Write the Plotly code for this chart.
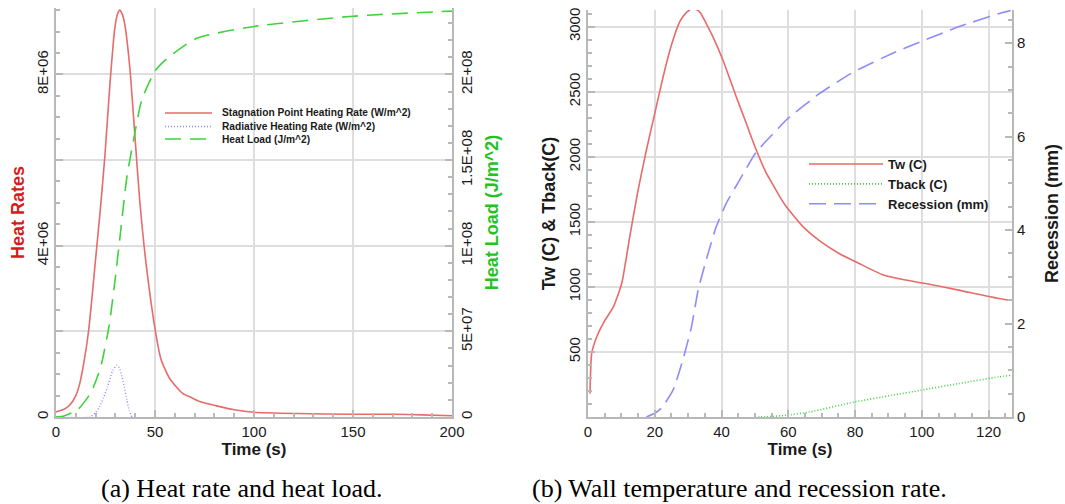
import plotly.graph_objects as go

W, H = 1065, 504

# ---------------- data: (a) heat rate / heat load ----------------
t_stag = [0, 4, 7, 10, 12, 14, 16.3, 18, 19.6, 22.2, 24.7, 27.2, 29.7, 31, 32.2, 33.5, 34.8,
          37.3, 39.8, 42.3, 45.7, 50.4, 53, 57.4, 64, 69, 72.5, 81, 90, 100, 122, 150, 171, 185, 200]
q_stag = [0.12e6, 0.18e6, 0.28e6, 0.5e6, 0.78e6, 1.25e6, 1.95e6, 2.7e6, 3.5e6, 4.75e6, 6.1e6,
          7.75e6, 9.08e6, 9.4e6, 9.5e6, 9.4e6, 9.15e6, 8.15e6, 6.6e6, 5.05e6, 3.5e6, 1.95e6,
          1.35e6, 0.9e6, 0.55e6, 0.44e6, 0.36e6, 0.26e6, 0.17e6, 0.11e6, 0.08e6, 0.065e6,
          0.065e6, 0.05e6, 0.03e6]

t_rad = [0, 17, 20, 22, 24, 26, 28.7, 30.8, 32, 33.3, 34.5, 35.8, 37, 38.3]
q_rad = [0, 0, 0.1e6, 0.24e6, 0.45e6, 0.7e6, 1.09e6, 1.21e6, 1.15e6, 0.94e6, 0.7e6, 0.4e6,
         0.15e6, 0]

t_load = [0, 4, 10.8, 17.5, 22.5, 26.7, 30, 32.5, 35.8, 39.2, 43.3, 50, 55.8, 70.8, 100, 150, 200]
q_load = [0, 0.6e6, 4.1e6, 1.4e7, 2.9e7, 5.25e7, 8.16e7, 1.07e8, 1.40e8, 1.62e8, 1.85e8,
          2.02e8, 2.09e8, 2.21e8, 2.28e8, 2.34e8, 2.37e8]

# ---------------- data: (b) wall temperature / recession ----------------
t_tw = [0.6, 1.1, 2.6, 5.1, 7.6, 10.1, 12.5, 15, 17.5, 20, 22.5, 25, 27.5, 29.5, 31.4, 33.4,
        35.5, 37.4, 40.4, 44.4, 47.4, 50.4, 53.3, 55.3, 57.3, 59.3, 64.3, 69.3, 75.2, 81.2,
        88.1, 93.1, 101.1, 111, 123, 126.6]
tw = [180, 488, 615, 744, 846, 1026, 1385, 1744, 2052, 2334, 2615, 2859, 3038, 3110, 3141,
      3115, 3020, 2923, 2744, 2462, 2257, 2052, 1880, 1790, 1700, 1620, 1465, 1355, 1257,
      1180, 1095, 1062, 1026, 975, 911, 897]

t_tb = [50, 53.3, 59.3, 66.3, 79.7, 91, 99.6, 111, 123, 126.6]
tback = [0, 2, 13, 38, 115, 167, 205, 257, 308, 320]

t_rec = [17.5, 20, 22, 25.5, 28.4, 31, 33, 35.4, 38.4, 41.4, 45.4, 50.4, 57.3, 59.3, 69.3,
         79.7, 91.1, 99.6, 111, 123, 126.6]
rec = [0, 0.08, 0.19, 0.58, 1.22, 1.93, 2.72, 3.36, 4.07, 4.57, 5.07, 5.67, 6.2, 6.35, 6.92,
       7.39, 7.78, 8.03, 8.35, 8.63, 8.7]

# tick labels
rate_ticks = [0, 2e6, 4e6, 6e6, 8e6]
rate_text = ["0", "", "4E+06", "", "8E+06"]
load_ticks = [0, 5e7, 1e8, 1.5e8, 2e8]
load_text = ["0", "5E+07", "1E+08", "1.5E+08", "2E+08"]
temp_ticks = [500, 1000, 1500, 2000, 2500, 3000]
rec_ticks = [0, 2, 4, 6, 8]

RED, GREEN, BLUE = "#e86a6a", "#3fd23f", "#8c8cff"
SANS = "Liberation Sans, Arial, sans-serif"
SERIF = "Liberation Serif, Times New Roman, serif"
AX = "#b8b8b8"
GRID = "#dedede"

def px(x):
    return x / W

def py(y):
    return 1 - y / H

fig = go.Figure()
# (a)
fig.add_trace(go.Scatter(x=t_stag, y=q_stag, mode="lines",
                         line=dict(color=RED, width=1.6, shape="spline", smoothing=0.6),
                         name="Stagnation Point Heating Rate (W/m^2)", xaxis="x", yaxis="y",
                         showlegend=False))
fig.add_trace(go.Scatter(x=t_rad, y=q_rad, mode="lines",
                         line=dict(color=BLUE, width=1.4, dash="1px,2px", shape="spline", smoothing=0.6),
                         name="Radiative Heating Rate (W/m^2)", xaxis="x", yaxis="y",
                         showlegend=False))
fig.add_trace(go.Scatter(x=t_load, y=q_load, mode="lines",
                         line=dict(color=GREEN, width=1.6, dash="16px,9px", shape="spline", smoothing=0.6),
                         name="Heat Load (J/m^2)", xaxis="x", yaxis="y2", showlegend=False))
# (b)
fig.add_trace(go.Scatter(x=t_tw, y=tw, mode="lines",
                         line=dict(color=RED, width=1.6, shape="spline", smoothing=0.5),
                         name="Tw (C)", xaxis="x2", yaxis="y3"))
fig.add_trace(go.Scatter(x=t_tb, y=tback, mode="lines",
                         line=dict(color=GREEN, width=1.6, dash="1px,2px", shape="spline", smoothing=0.5),
                         name="Tback (C)", xaxis="x2", yaxis="y3"))
fig.add_trace(go.Scatter(x=t_rec, y=rec, mode="lines",
                         line=dict(color=BLUE, width=1.6, dash="17px,8px", shape="spline", smoothing=0.5),
                         name="Recession (mm)", xaxis="x2", yaxis="y4"))

tickfont = dict(family=SANS, size=15, color="#1a1a1a")
common = dict(showline=True, linecolor=AX, linewidth=2, ticks="inside", tickcolor=AX,
              ticklen=7, tickwidth=1.5, gridcolor=GRID, gridwidth=1.5, zeroline=False,
              tickfont=tickfont, automargin=False)
common_nogrid = {k: v for k, v in common.items() if k != "gridcolor"}

yd = [py(417), py(8)]
yd2 = [py(417), py(10)]

def minor(d):
    return dict(dtick=d, tick0=0, ticks="inside", ticklen=4, tickcolor=AX, showgrid=False)

fig.update_layout(
    template="none",
    width=W, height=H, margin=dict(l=0, r=0, t=0, b=0),
    paper_bgcolor="white", plot_bgcolor="white",
    xaxis=dict(domain=[px(56), px(452)], range=[0, 200], tickvals=[0, 50, 100, 150, 200],
               minor=minor(10),
               title=dict(text="<b>Time (s)</b>", font=dict(family=SANS, size=17, color="#1a1a1a"),
                          standoff=0),
               anchor="y", **common),
    yaxis=dict(domain=yd, range=[0, 9.55e6], tickvals=rate_ticks, ticktext=rate_text,
               tickangle=-90, minor=minor(5e5),
               title=dict(text="<b>Heat Rates</b>", font=dict(family=SANS, size=18, color="#d41c1c"),
                          standoff=5),
               anchor="x", **common),
    yaxis2=dict(range=[0, 2.388e8], tickvals=load_ticks, ticktext=load_text, tickangle=-90,
                overlaying="y", side="right", anchor="x", showgrid=False, minor=minor(1e7),
                title=dict(text="<b>Heat Load (J/m^2)</b>", font=dict(family=SANS, size=18, color="#22c322"),
                           standoff=11),
                **common_nogrid),
    xaxis2=dict(domain=[px(588), px(1012)], range=[0, 127], tickvals=[0, 20, 40, 60, 80, 100, 120],
                minor=minor(5),
                title=dict(text="<b>Time (s)</b>", font=dict(family=SANS, size=17, color="#1a1a1a"),
                           standoff=0),
                anchor="y3", **common),
    yaxis3=dict(domain=yd2, range=[0, 3128], tickvals=temp_ticks, tickangle=-90, minor=minor(100),
                title=dict(text="<b>Tw (C) &amp; Tback(C)</b>", font=dict(family=SANS, size=18, color="#1a1a1a"),
                           standoff=6),
                anchor="x2", **common),
    yaxis4=dict(range=[0, 8.71], tickvals=rec_ticks, overlaying="y3", side="right", anchor="x2",
                showgrid=False, minor=minor(0.5),
                title=dict(text="<b>Recession (mm)</b>", font=dict(family=SANS, size=18, color="#1a1a1a"),
                           standoff=21),
                **common_nogrid),
    legend=dict(x=px(804), y=py(149), xanchor="left", yanchor="top", bgcolor="rgba(0,0,0,0)",
                font=dict(family=SANS, size=13, color="#1a1a1a", weight="bold"), itemwidth=74,
                tracegroupgap=0),
    showlegend=True,
)

# manual legend for panel (a) (compact spacing as in the original)
leg_a = [("Stagnation Point Heating Rate (W/m^2)", RED, "solid", 113),
         ("Radiative Heating Rate (W/m^2)", BLUE, "1px,2px", 126.5),
         ("Heat Load (J/m^2)", GREEN, "16px,9px", 139)]
for text, col, dash, yy in leg_a:
    fig.add_shape(type="line", xref="paper", yref="paper", x0=px(165), x1=px(212),
                  y0=py(yy), y1=py(yy), line=dict(color=col, width=1.6, dash=dash))
    fig.add_annotation(xref="paper", yref="paper", x=px(220), y=py(yy), xanchor="left",
                       yanchor="middle", showarrow=False, text="<b>" + text + "</b>",
                       font=dict(family=SANS, size=10.2, color="#1a1a1a"))

# captions
fig.add_annotation(xref="paper", yref="paper", x=px(242), y=py(488), showarrow=False,
                   text="(a) Heat rate and heat load.", xanchor="center", yanchor="middle",
                   font=dict(family=SERIF, size=26, color="black"))
fig.add_annotation(xref="paper", yref="paper", x=px(739), y=py(488), showarrow=False,
                   text="(b) Wall temperature and recession rate.", xanchor="center", yanchor="middle",
                   font=dict(family=SERIF, size=26, color="black"))

fig.write_html("out.html", config={"displayModeBar": False},
               post_script="document.body.style.margin='0px';")
